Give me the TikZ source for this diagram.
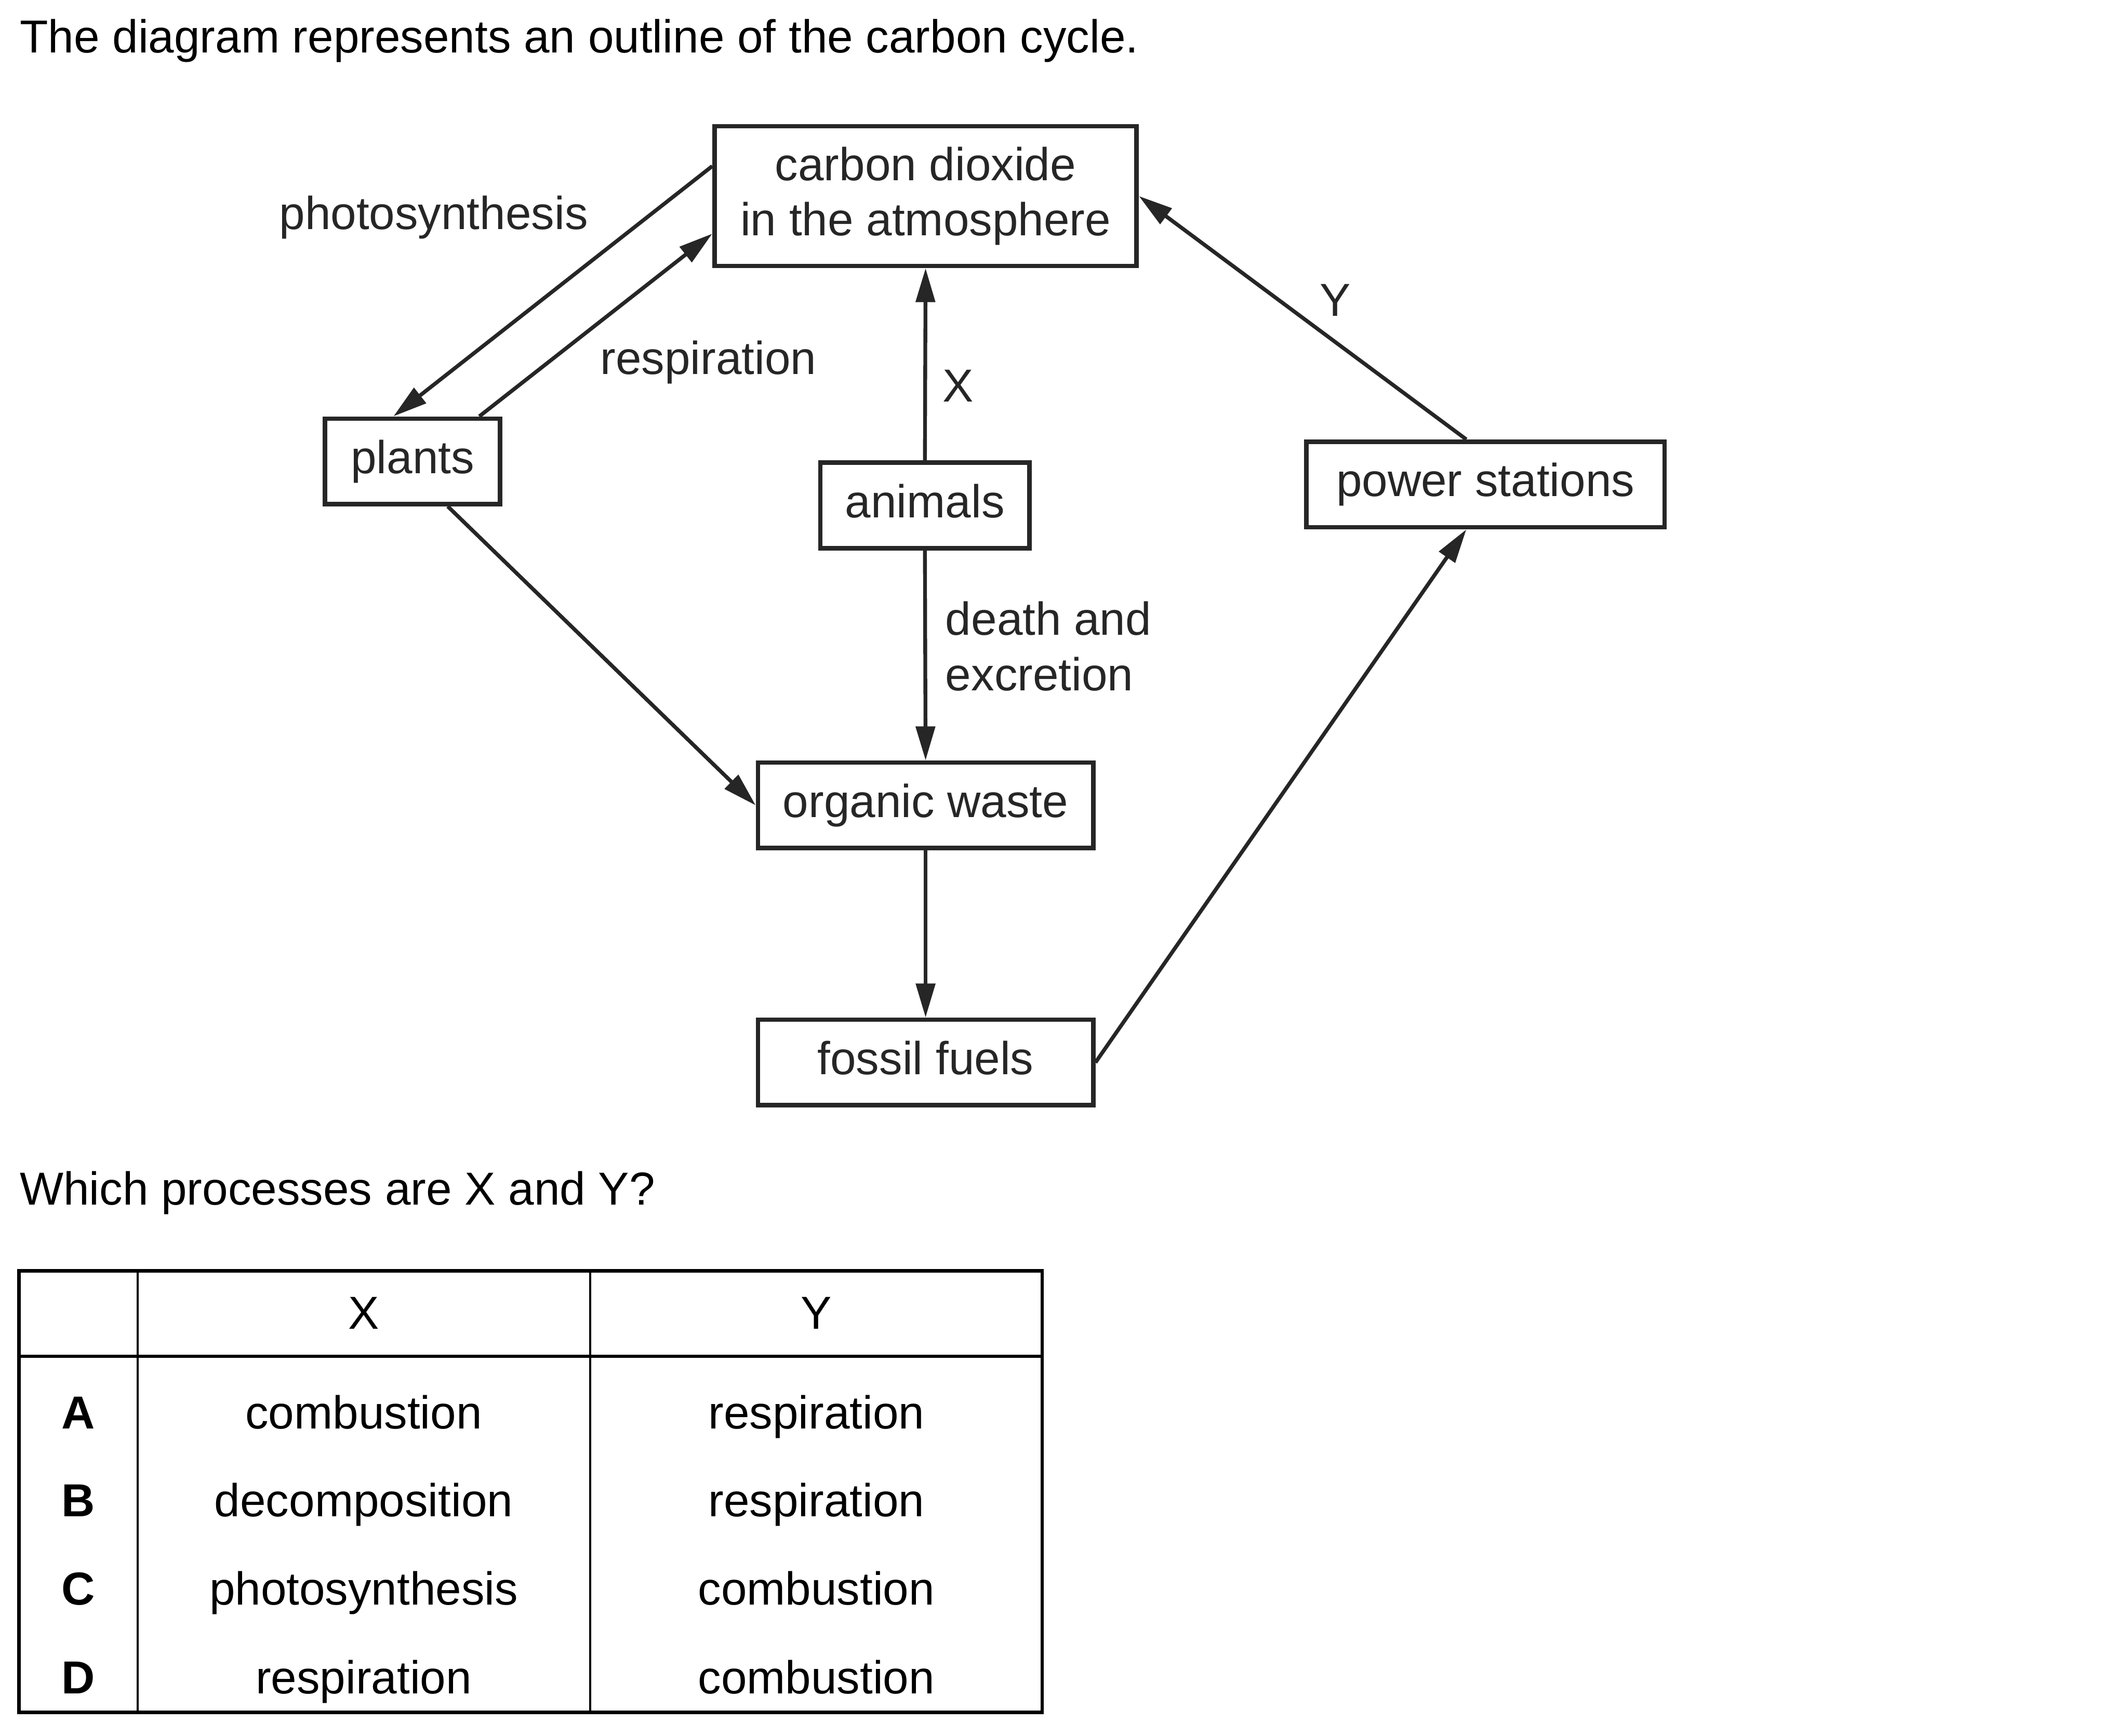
\documentclass[tikz,border=0pt]{standalone}
\usepackage{fontspec}
\setmainfont{Liberation Sans}
\usetikzlibrary{arrows.meta}
\definecolor{ink}{gray}{0.15}
\tikzset{
  box/.style={draw=ink,text=ink,line width=0.95pt,inner sep=0pt,
    minimum height=0.63cm,text height=0.75em,text depth=0.25em},
  lbl/.style={text=ink,inner sep=0pt,anchor=base},
  flow/.style={->,draw=ink,line width=0.8pt},
  cell/.style={inner sep=0pt,anchor=base},
}
\begin{document}
\begin{tikzpicture}[>={Triangle[length=2.5mm,width=1.4mm]},
    font=\fontsize{9.7}{11.6}\selectfont]
      \useasboundingbox (0,0) rectangle (15.68,-12.79);
      \node[cell,anchor=base west] (intro) at (0.14,-0.39) {The diagram represents an outline of the carbon cycle.};

      % boxes of the cycle
      \node[draw=ink,text=ink,line width=0.95pt,inner sep=0pt,minimum width=3.11cm,minimum height=1.03cm,align=center]
        (co2) at (6.82,-1.445) {carbon dioxide\\in the atmosphere};
      \node[box,minimum width=1.29cm] (plants) at (3.04,-3.40) {plants};
      \node[box,minimum width=1.54cm] (animals) at (6.815,-3.725) {animals};
      \node[box,minimum width=2.64cm] (power) at (10.945,-3.57) {power stations};
      \node[box,minimum width=2.47cm] (waste) at (6.82,-5.935) {organic waste};
      \node[box,minimum width=2.47cm] (fossil) at (6.82,-7.83) {fossil fuels};

      \draw[flow] (co2.172) -- (plants.113);
      \draw[flow] (plants.34) -- (co2.190);
      \draw[flow] (animals.north) -- (co2.south);
      \draw[flow] (animals.south) -- (waste.north);
      \draw[flow] (plants.-52) -- (waste.west);
      \draw[flow] (waste.south) -- (fossil.north);
      \draw[flow] (fossil.east) -- (power.247);
      \draw[flow] (power.113) -- (co2.east);

      \node[lbl] (photo) at (3.195,-1.69) {photosynthesis};
      \node[lbl] (resp) at (5.22,-2.76) {respiration};
      \node[lbl] (xlbl) at (7.06,-2.96) {X};
      \node[lbl] (ylbl) at (9.84,-2.33) {Y};
      \node[lbl,anchor=west,align=left] (death) at (6.96,-4.763) {death and\\excretion};

      \node[cell,anchor=base west] (question) at (0.14,-8.88) {Which processes are X and Y?};

      % answer table
      \draw[line width=0.7pt] (0.14,-9.365) rectangle (7.68,-12.62);
      \draw[line width=0.7pt] (0.14,-9.995) -- (7.68,-9.995);
      \draw[line width=0.45pt] (1.015,-9.365) -- (1.015,-12.62);
      \draw[line width=0.45pt] (4.35,-9.365) -- (4.35,-12.62);
      \node[cell] (hx) at (2.68,-9.795) {X};
      \node[cell] (hy) at (6.015,-9.795) {Y};
      \node[cell] (ra) at (0.577,-10.53) {\bfseries A};
      \node[cell] (rb) at (0.577,-11.175) {\bfseries B};
      \node[cell] (rc) at (0.577,-11.825) {\bfseries C};
      \node[cell] (rd) at (0.577,-12.48) {\bfseries D};
      \node[cell] (ax) at (2.68,-10.53) {combustion};
      \node[cell] (bx) at (2.68,-11.175) {decomposition};
      \node[cell] (cx) at (2.68,-11.825) {photosynthesis};
      \node[cell] (dx) at (2.68,-12.48) {respiration};
      \node[cell] (ay) at (6.015,-10.53) {respiration};
      \node[cell] (by) at (6.015,-11.175) {respiration};
      \node[cell] (cy) at (6.015,-11.825) {combustion};
      \node[cell] (dy) at (6.015,-12.48) {combustion};
    \end{tikzpicture}
\end{document}
